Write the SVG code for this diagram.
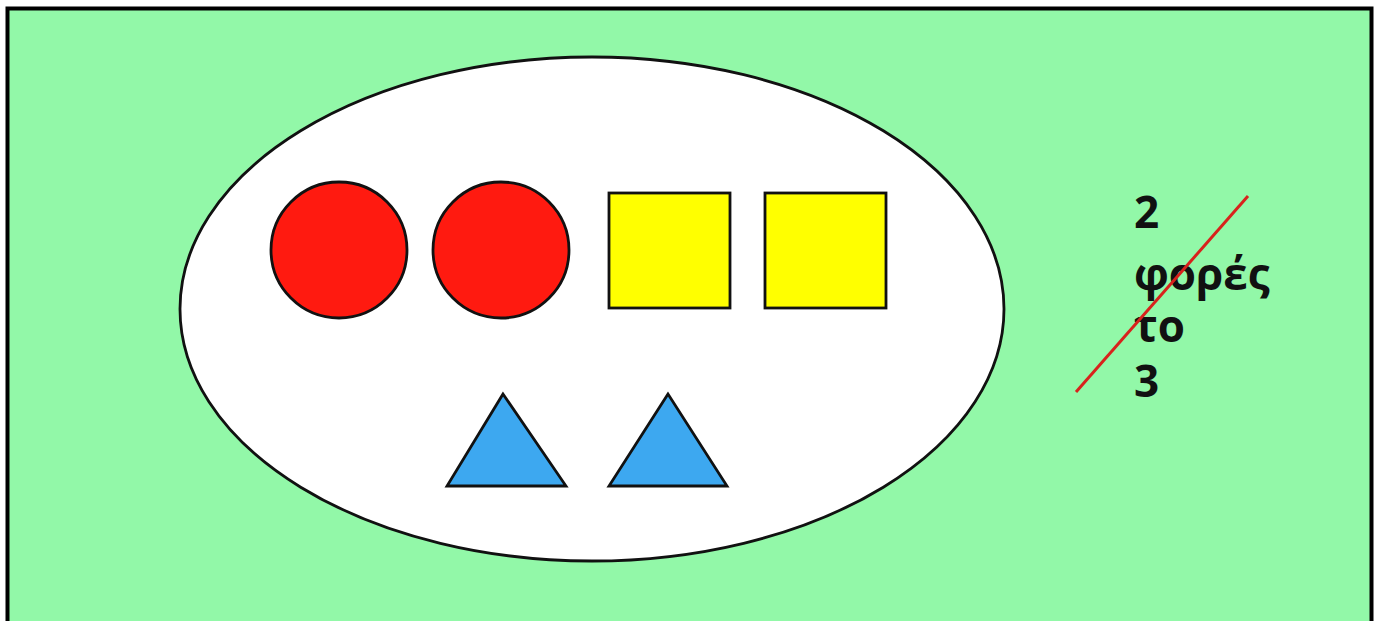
<svg xmlns="http://www.w3.org/2000/svg" width="1381" height="621" viewBox="0 0 1381 621">
<style>
.sh{stroke:#111;stroke-width:2.8}
.t{font-family:"Open Sans","DejaVu Sans",sans-serif;font-weight:bold;font-size:44px;fill:#111}
</style>
<rect x="0" y="0" width="1381" height="621" fill="#fff"/>
<rect id="frame" x="7.5" y="8.5" width="1364" height="640" fill="#92f8a8" stroke="#000" stroke-width="4"/>
<g id="oval"><ellipse cx="592" cy="309" rx="412" ry="252" fill="#fff" stroke="#111" stroke-width="2.8"/></g>
<g id="circle1"><circle cx="339" cy="250" r="68" fill="#ff1a10" class="sh"/></g>
<g id="circle2"><circle cx="501" cy="250" r="68" fill="#ff1a10" class="sh"/></g>
<g id="square1"><rect x="609" y="193" width="121" height="115" fill="#ffff00" class="sh"/></g>
<g id="square2"><rect x="765" y="193" width="121" height="115" fill="#ffff00" class="sh"/></g>
<g id="triangle1"><polygon points="503,394 447,486 566,486" fill="#3da8f0" class="sh"/></g>
<g id="triangle2"><polygon points="668,394 609,486 727,486" fill="#3da8f0" class="sh"/></g>
<g id="label">
<text class="t" x="1134" y="228">2</text>
<text class="t" x="1134" y="290">φορές</text>
<text class="t" x="1134" y="342">το</text>
<text class="t" x="1134" y="397">3</text>
</g>
<g id="connectors"><line x1="1248" y1="196" x2="1076" y2="392" stroke="#d8221c" stroke-width="3"/></g>
</svg>
